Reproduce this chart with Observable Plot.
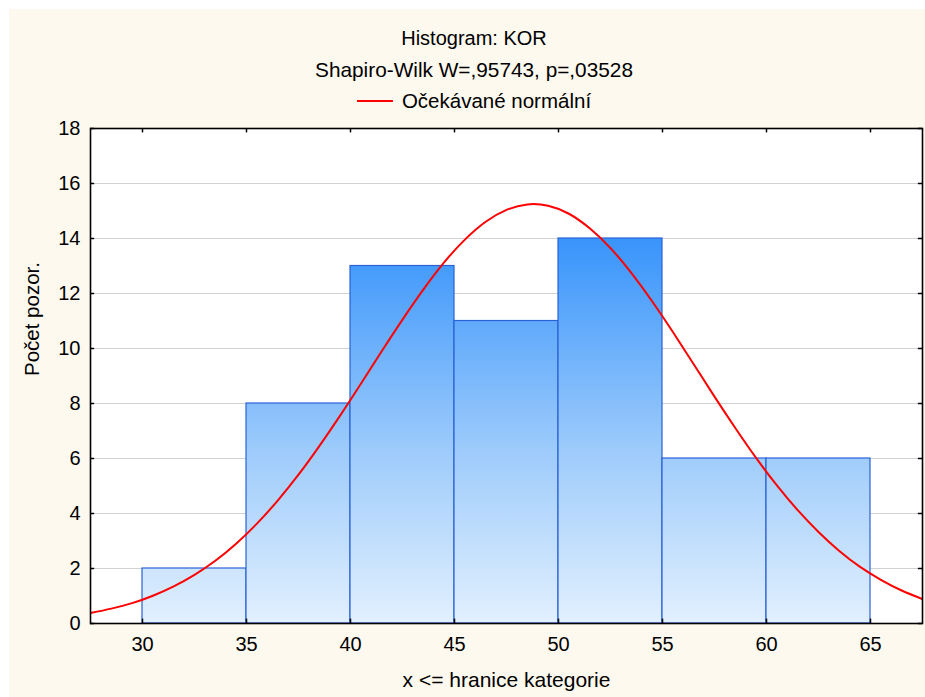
<!DOCTYPE html>
<html>
<head>
<meta charset="utf-8">
<script src="https://cdn.jsdelivr.net/npm/d3@7"></script>
<script src="https://cdn.jsdelivr.net/npm/@observablehq/plot@0.6"></script>
<style>
  html, body { margin: 0; padding: 0; background: #ffffff; }
  #wrap { position: relative; width: 925px; height: 697px; background: #ffffff; overflow: hidden;
          font-family: "Liberation Sans", Arial, sans-serif; color: #000; }
  #panel { position: absolute; left: 9px; top: 9px; width: 916px; height: 688px; background: #fdf9ef; }
  .hdr { position: absolute; left: 474px; transform: translateX(-50%); font-size: 20px; line-height: 20px; white-space: nowrap; }
  #chart { position: absolute; left: 0; top: 118px; }
  #legend { display: flex; align-items: center; }
</style>
</head>
<body>
<div id="wrap">
  <div id="panel"></div>
  <div class="hdr" id="title" style="top:28px">Histogram: KOR</div>
  <div class="hdr" id="subtitle" style="top:60px;font-size:20.8px">Shapiro-Wilk W=,95743, p=,03528</div>
  <div class="hdr" id="legend" style="top:91px;font-size:20.5px">
    <svg width="36" height="20"><line x1="0" x2="36" y1="10" y2="10" stroke="#ff0000" stroke-width="2"/></svg>
    <span style="margin-left:9px">Očekávané normální</span>
  </div>
  <div id="chart"></div>
</div>
<script>
// Histogram bins (category upper bounds) and counts
const binStarts = [30, 35, 40, 45, 50, 55, 60];
const binEnds   = [35, 40, 45, 50, 55, 60, 65];
const counts    = [2, 8, 13, 11, 14, 6, 6];

// Expected normal curve
const curveX = [27.5, 28.5, 29.5, 30.5, 31.5, 32.5, 33.5, 34.5, 35.5, 36.5, 37.5, 38.5, 39.5, 40.5,
                41.5, 42.5, 43.5, 44.5, 45.5, 46.5, 47.5, 48.5, 49.5, 50.5, 51.5, 52.5, 53.5, 54.5,
                55.5, 56.5, 57.5, 58.5, 59.5, 60.5, 61.5, 62.5, 63.5, 64.5, 65.5, 66.5, 67.5];
const curveY = [0.38, 0.54, 0.74, 1.01, 1.35, 1.77, 2.28, 2.90, 3.63, 4.47, 5.41, 6.45, 7.56, 8.72,
                9.90, 11.05, 12.14, 13.13, 13.96, 14.61, 15.04, 15.24, 15.19, 14.90, 14.37, 13.65, 12.75, 11.72,
                10.60, 9.43, 8.25, 7.11, 6.02, 5.02, 4.12, 3.33, 2.64, 2.06, 1.59, 1.20, 0.89];

const xTicks = [30, 35, 40, 45, 50, 55, 60, 65];
const yTicks = [0, 2, 4, 6, 8, 10, 12, 14, 16, 18];
const xDomain = [27.5, 67.5];
const yDomain = [0, 18];
const xLabel = "x <= hranice kategorie";
const yLabel = "Počet pozor.";

const bars = binStarts.map((s, i) => ({x1: s, x2: binEnds[i], count: counts[i]}));
const curve = curveX.map((x, i) => ({x, y: curveY[i]}));

const chart = Plot.plot({
  width: 925,
  height: 579,
  marginLeft: 90,
  marginRight: 3,
  marginTop: 10,
  marginBottom: 74,
  style: {fontFamily: "'Liberation Sans', Arial, sans-serif", fontSize: "20px", background: "transparent", color: "#000", overflow: "visible"},
  x: {domain: xDomain},
  y: {domain: yDomain},
  marks: [
    Plot.frame({fill: "#ffffff", stroke: null}),
    Plot.gridY(yTicks, {stroke: "#d2d2d2", strokeOpacity: 1, strokeWidth: 1}),
    Plot.rect(bars, {x1: "x1", x2: "x2", y1: 0, y2: "count", fill: "url(#barGrad)", stroke: "#2a62d6", strokeWidth: 1.2}),
    Plot.line(curve, {x: "x", y: "y", curve: "natural", stroke: "#ff0000", strokeWidth: 2, clip: "frame"}),
    Plot.axisX(xTicks, {anchor: "bottom", tickSize: 0, tickPadding: 13, label: null, fontSize: 20}),
    Plot.axisY(yTicks, {anchor: "left", tickSize: 0, tickPadding: 10, label: null, fontSize: 20}),
    // inward tick marks on all sides
    Plot.ruleX(xTicks, {x: d => d, y1: 0, y2: 0.16, stroke: "#000", strokeWidth: 1.5}),
    Plot.ruleX(xTicks, {x: d => d, y1: 18, y2: 17.84, stroke: "#000", strokeWidth: 1.5}),
    Plot.ruleY(yTicks, {y: d => d, x1: 27.5, x2: 27.7, stroke: "#000", strokeWidth: 1.5}),
    Plot.ruleY(yTicks, {y: d => d, x1: 67.5, x2: 67.3, stroke: "#000", strokeWidth: 1.5}),
    Plot.frame({stroke: "#000", strokeWidth: 1.6}),
    Plot.text([xLabel], {frameAnchor: "bottom", dy: 63, text: d => d, fontSize: 21}),
    Plot.text([yLabel], {frameAnchor: "left", dx: -58, rotate: -90, text: d => d, fontSize: 20.5})
  ]
});

// gradient fill for bars, by absolute height
const ys = chart.scale("y");
const yTop = ys.apply(14), yBot = ys.apply(0);
const defs = d3.select(chart).insert("defs", ":first-child");
const g = defs.append("linearGradient")
  .attr("id", "barGrad")
  .attr("gradientUnits", "userSpaceOnUse")
  .attr("x1", 0).attr("x2", 0)
  .attr("y1", yTop).attr("y2", yBot);
g.append("stop").attr("offset", "0%").attr("stop-color", "#3894fb");
g.append("stop").attr("offset", "55%").attr("stop-color", "#9dcbfb");
g.append("stop").attr("offset", "100%").attr("stop-color", "#e2f0fe");

document.getElementById("chart").appendChild(chart);
</script>
</body>
</html>
